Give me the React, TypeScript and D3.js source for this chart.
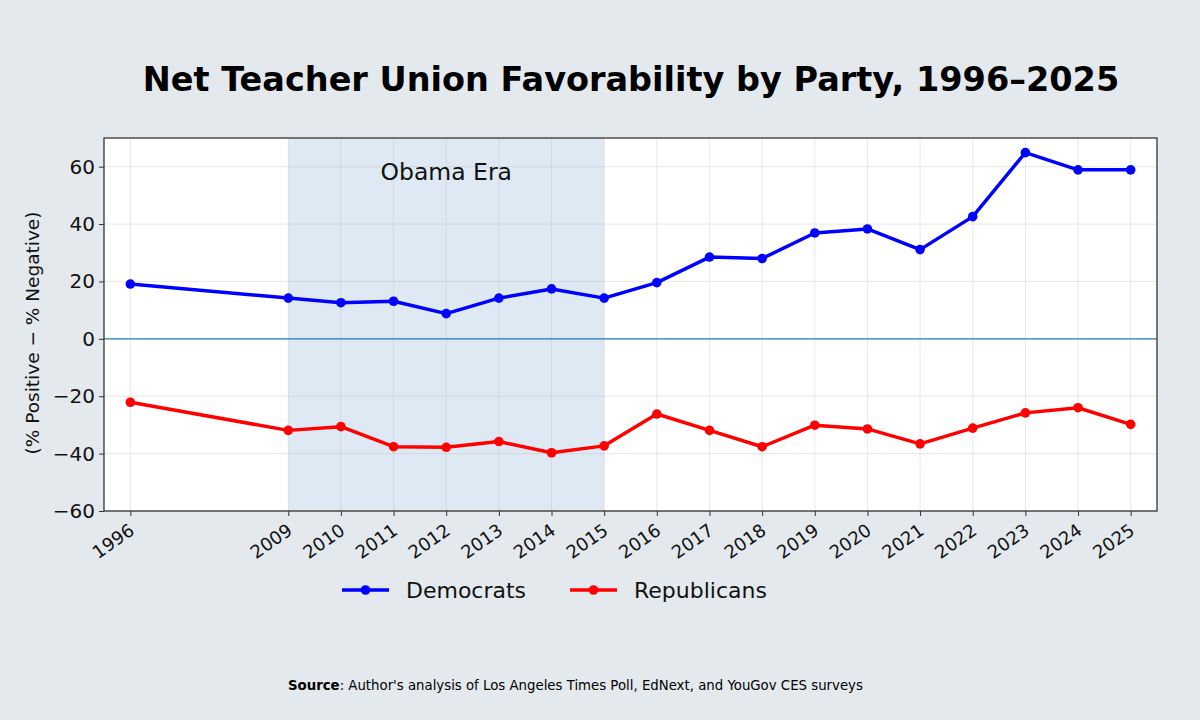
import React, { useEffect, useRef } from 'react';
import * as d3 from 'd3';

const years = [1996, 2009, 2010, 2011, 2012, 2013, 2014, 2015, 2016, 2017, 2018, 2019, 2020, 2021, 2022, 2023, 2024, 2025];
const democrats = [19.1, 14.2, 12.6, 13.1, 8.8, 14.2, 17.4, 14.2, 19.6, 28.5, 28.0, 36.9, 38.3, 31.1, 42.6, 64.9, 58.9, 58.9];
const republicans = [-22.1, -31.9, -30.6, -37.6, -37.8, -35.8, -39.7, -37.3, -26.2, -31.9, -37.6, -30.1, -31.4, -36.6, -31.1, -25.8, -24.0, -29.8];
const yTicks = [-60, -40, -20, 0, 20, 40, 60];
const obamaEra = [2009, 2015];

const series = [
  { name: 'Democrats', values: democrats, color: '#0000ff' },
  { name: 'Republicans', values: republicans, color: '#ff0000' }
];

const FONT = '"DejaVu Sans", Verdana, sans-serif';

export default function App() {
  const ref = useRef<SVGSVGElement>(null);

  useEffect(() => {
    if (!ref.current) return;
    const svg = d3.select(ref.current);
    svg.selectAll('*').remove();

    const W = 1200, H = 720;
    const margin = { top: 138, right: 43, bottom: 209, left: 104 };
    const width = W - margin.left - margin.right;
    const height = H - margin.top - margin.bottom;

    svg.append('rect').attr('width', W).attr('height', H).attr('fill', '#e4e9ee');

    // title
    svg.append('text')
      .attr('x', 631).attr('y', 91)
      .attr('text-anchor', 'middle')
      .style('font-family', FONT).style('font-weight', 'bold').style('font-size', '33.5px')
      .attr('fill', '#000')
      .text('Net Teacher Union Favorability by Party, 1996–2025');

    const g = svg.append('g').attr('transform', `translate(${margin.left},${margin.top})`);

    // 1996 sits three slots left of 2009 (broken time axis)
    const unit = width / 20;
    const x = d3.scaleLinear()
      .domain([1996, 2009, 2025])
      .range([unit * 0.5, unit * 3.5, unit * 19.5]);
    const y = d3.scaleLinear().domain([-60, 70]).range([height, 0]);

    g.append('rect').attr('width', width).attr('height', height).attr('fill', '#ffffff');

    // Obama era shading
    g.append('rect')
      .attr('x', x(obamaEra[0])).attr('y', 0)
      .attr('width', x(obamaEra[1]) - x(obamaEra[0]))
      .attr('height', height)
      .attr('fill', '#dfe9f3');

    // grid
    g.append('g')
      .selectAll('line')
      .data(years)
      .join('line')
      .attr('x1', d => x(d)).attr('x2', d => x(d))
      .attr('y1', 0).attr('y2', height)
      .attr('stroke', '#b8bec6').attr('stroke-opacity', 0.35).attr('stroke-width', 1);
    g.append('g')
      .selectAll('line')
      .data(yTicks.filter(t => t !== 0))
      .join('line')
      .attr('x1', 0).attr('x2', width)
      .attr('y1', d => y(d)).attr('y2', d => y(d))
      .attr('stroke', '#b8bec6').attr('stroke-opacity', 0.35).attr('stroke-width', 1);

    g.append('text')
      .attr('x', x(2012)).attr('y', y(55.3))
      .attr('text-anchor', 'middle')
      .style('font-family', FONT).style('font-size', '23.5px')
      .attr('fill', '#111')
      .text('Obama Era');

    // zero line
    g.append('line')
      .attr('x1', 0).attr('x2', width)
      .attr('y1', y(0)).attr('y2', y(0))
      .attr('stroke', '#1f77b4').attr('stroke-width', 1.3);

    // series
    const line = d3.line<number>().x((_, i) => x(years[i])).y(d => y(d));
    series.forEach(s => {
      g.append('path')
        .datum(s.values)
        .attr('d', line)
        .attr('fill', 'none')
        .attr('stroke', s.color)
        .attr('stroke-width', 3.5)
        .attr('stroke-linejoin', 'round');
      g.append('g')
        .selectAll('circle')
        .data(s.values)
        .join('circle')
        .attr('cx', (_, i) => x(years[i]))
        .attr('cy', d => y(d))
        .attr('r', 4.8)
        .attr('fill', s.color);
    });

    // frame
    g.append('rect').attr('width', width).attr('height', height)
      .attr('fill', 'none').attr('stroke', '#333').attr('stroke-width', 1.3);

    // axes
    const yAxis = g.append('g')
      .call(d3.axisLeft(y).tickValues(yTicks).tickSize(5).tickPadding(4).tickFormat(d => d3.format('d')(d as number).replace('-', '−')));
    yAxis.select('.domain').remove();
    yAxis.selectAll('line').attr('stroke', '#333');
    yAxis.selectAll('text').style('font-family', FONT).style('font-size', '20px').attr('fill', '#111');

    const xAxis = g.append('g')
      .attr('transform', `translate(0,${height})`)
      .call(d3.axisBottom(x).tickValues(years).tickSize(5).tickFormat(d => String(d)));
    xAxis.select('.domain').remove();
    xAxis.selectAll('line').attr('stroke', '#333');
    xAxis.selectAll('text')
      .style('font-family', FONT).style('font-size', '18px').attr('fill', '#111')
      .attr('dy', null)
      .attr('y', 0)
      .attr('transform', 'translate(-3,11) rotate(-35)')
      .style('text-anchor', 'end')
      .attr('dominant-baseline', 'hanging');

    // y label
    svg.append('text')
      .attr('transform', `translate(39,333) rotate(-90)`)
      .attr('text-anchor', 'middle')
      .style('font-family', FONT).style('font-size', '18.5px')
      .attr('fill', '#111')
      .text('(% Positive − % Negative)');

    // legend
    const legend = svg.append('g').attr('transform', 'translate(342,590)');
    const offsets = [0, 228];
    series.forEach((s, i) => {
      const lg = legend.append('g').attr('transform', `translate(${offsets[i]},0)`);
      lg.append('line').attr('x1', 0).attr('x2', 47).attr('stroke', s.color).attr('stroke-width', 3.5);
      lg.append('circle').attr('cx', 23.5).attr('r', 4.8).attr('fill', s.color);
      lg.append('text')
        .attr('x', 64).attr('y', 8)
        .style('font-family', FONT).style('font-size', '22px')
        .attr('fill', '#111')
        .text(s.name);
    });

    // source
    const src = svg.append('text')
      .attr('x', 288).attr('y', 690)
      .style('font-family', FONT).style('font-size', '13.3px')
      .attr('fill', '#000');
    src.append('tspan').style('font-weight', 'bold').text('Source');
    src.append('tspan').text(": Author's analysis of Los Angeles Times Poll, EdNext, and YouGov CES surveys");
  }, []);

  return (
    <svg
      ref={ref}
      width={1200}
      height={720}
      style={{ position: 'fixed', left: 0, top: 0, display: 'block' }}
    />
  );
}
